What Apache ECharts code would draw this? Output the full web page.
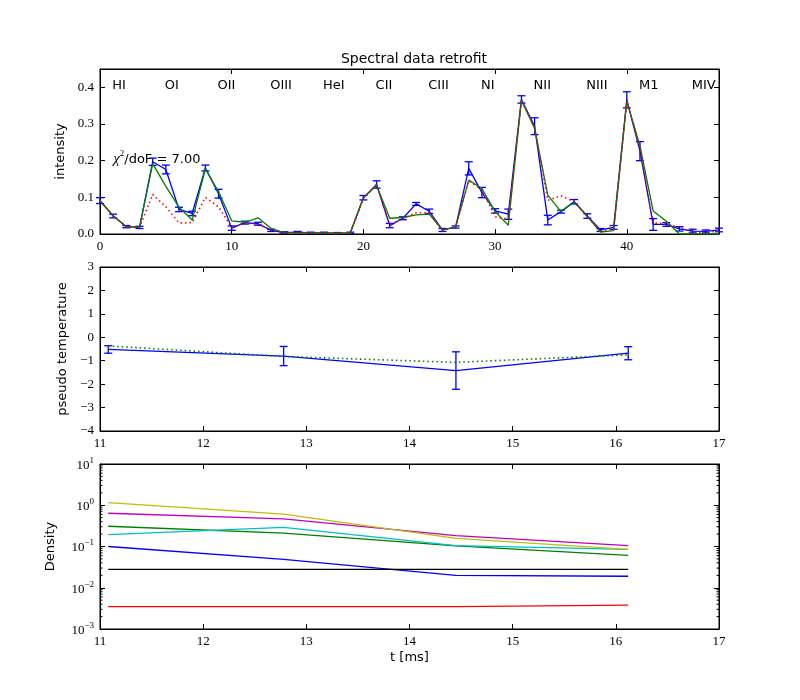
<!DOCTYPE html>
<html>
<head>
<meta charset="utf-8">
<script src="https://cdn.jsdelivr.net/npm/echarts@6/dist/echarts.min.js"></script>
<style>html,body{margin:0;padding:0;background:#fff;}#c{width:800px;height:700px;}</style>
</head>
<body>
<div id="c"></div>
<script>
// ---------- data ----------
const specX = [0,1,2,3,4,5,6,7,8,9,10,11,12,13,14,15,16,17,18,19,20,21,22,23,24,25,26,27,28,29,30,31,32,33,34,35,36,37,38,39,40,41,42,43,44,45,46,47];
const specMeasured = [0.091,0.049,0.020,0.018,0.197,0.176,0.067,0.056,0.180,0.110,0.016,0.031,0.028,0.010,0.004,0.005,0.003,0.003,0.002,0.003,0.099,0.135,0.023,0.043,0.082,0.062,0.011,0.019,0.179,0.113,0.063,0.054,0.367,0.294,0.038,0.061,0.088,0.049,0.011,0.018,0.366,0.226,0.026,0.026,0.014,0.008,0.007,0.011];
const specError = [0.008,0.005,0.003,0.003,0.010,0.012,0.006,0.006,0.008,0.012,0.006,0.004,0.004,0.003,0.002,0.002,0.002,0.002,0.002,0.002,0.006,0.010,0.006,0.004,0.004,0.006,0.004,0.003,0.018,0.014,0.006,0.014,0.010,0.023,0.013,0.004,0.006,0.006,0.004,0.005,0.022,0.026,0.016,0.005,0.006,0.005,0.004,0.005];
const specFit = [0.090,0.050,0.020,0.018,0.192,0.130,0.073,0.038,0.178,0.115,0.036,0.032,0.044,0.015,0.004,0.003,0.003,0.002,0.002,0.002,0.099,0.132,0.043,0.045,0.052,0.054,0.011,0.019,0.147,0.124,0.061,0.024,0.365,0.288,0.106,0.061,0.088,0.048,0.005,0.009,0.362,0.240,0.063,0.035,0.000,0.000,0.000,0.000];
const specInit = [0.090,0.050,0.020,0.018,0.108,0.074,0.030,0.031,0.100,0.074,0.018,0.030,0.027,0.010,0.003,0.004,0.003,0.003,0.002,0.003,0.097,0.135,0.025,0.042,0.058,0.058,0.009,0.019,0.145,0.120,0.047,0.040,0.366,0.290,0.092,0.104,0.088,0.048,0.008,0.014,0.364,0.235,0.030,0.028,0.018,0.005,0.004,0.008];
const lineNames = ["HI","OI","OII","OIII","HeI","CII","CIII","NI","NII","NIII","M1","MIV"];
const lineNameX = [1,5,9,13,17,21,25,29,33,37,41,45];
const chiText = "7.00";

const timeMs = [11.08, 12.78, 14.45, 16.12];
const tempMeasured = [-0.52, -0.80, -1.42, -0.68];
const tempError = [0.16, 0.41, 0.80, 0.28];
const tempFit = [-0.37, -0.82, -1.07, -0.75];

const densBlue    = [0.100, 0.049, 0.020, 0.019];
const densGreen   = [0.310, 0.210, 0.103, 0.061];
const densRed     = [0.0035, 0.0035, 0.0035, 0.0038];
const densCyan    = [0.195, 0.290, 0.105, 0.085];
const densMagenta = [0.640, 0.470, 0.183, 0.105];
const densYellow  = [1.160, 0.610, 0.158, 0.085];
const densBlack   = [0.028, 0.028, 0.028, 0.028];
const minorLogTicks = [];
[0.001,0.01,0.1,1].forEach(d=>{for(let k=2;k<=9;k++) minorLogTicks.push(+(d*k).toPrecision(3));});

// ---------- styling ----------
const SERIF = '"Liberation Serif", "DejaVu Serif", serif';
const SANS = '"DejaVu Sans", sans-serif';
const LW = 1.3;
const minus = v => String(v).replace('-', '\u2212');

function xAxes(gi, min, max, interval, fmt, name) {
  return [
    {gridIndex: gi, type:'value', min, max, interval, position:'bottom',
     axisLine:{show:true, onZero:false, lineStyle:{color:'#000', width:1}},
     axisTick:{show:true, inside:true, length:5, lineStyle:{color:'#000'}},
     axisLabel:{show:true, color:'#000', fontFamily:SERIF, fontSize:13, margin:6, formatter: fmt, showMaxLabel: true},
     splitLine:{show:false},
     name: name || '', nameLocation:'middle', nameGap: 22,
     nameTextStyle:{fontFamily:SANS, fontSize:13, color:'#000'}},
    {gridIndex: gi, type:'value', min, max, interval, position:'top',
     axisLine:{show:true, onZero:false, lineStyle:{color:'#000', width:1}},
     axisTick:{show:true, inside:true, length:5, lineStyle:{color:'#000'}},
     axisLabel:{show:false}, splitLine:{show:false}}
  ];
}
function yAxes(gi, type, min, max, interval, fmt, name, nameGap) {
  const base = {gridIndex: gi, type, min, max, splitLine:{show:false}};
  if (interval != null) base.interval = interval;
  return [
    Object.assign({}, base, {position:'left',
     axisLine:{show:true, onZero:false, lineStyle:{color:'#000', width:1}},
     axisTick:{show:true, inside:true, length:5, lineStyle:{color:'#000'}},
     axisLabel:{show:true, color:'#000', fontFamily:SERIF, fontSize:13, margin:6, formatter: fmt,
       rich:{b:{fontFamily:SERIF, fontSize:13, color:'#000', verticalAlign:'bottom'},
             s:{fontFamily:SERIF, fontSize:9, color:'#000', verticalAlign:'bottom', padding:[0,0,7,0]}}},
     name, nameLocation:'middle', nameGap, nameRotate:90,
     nameTextStyle:{fontFamily:SANS, fontSize:13, color:'#000'}}),
    Object.assign({}, base, {position:'right',
     axisLine:{show:true, onZero:false, lineStyle:{color:'#000', width:1}},
     axisTick:{show:true, inside:true, length:5, lineStyle:{color:'#000'}},
     axisLabel:{show:false}})
  ];
}

function errorBars(xi, yi, xs, ys, es, color, cap) {
  return {
    type:'custom', xAxisIndex:xi, yAxisIndex:yi, z:3, silent:true,
    data: xs.map((x,i)=>[x, ys[i]-es[i], ys[i]+es[i]]),
    renderItem: (params, api) => {
      const lo = api.coord([api.value(0), api.value(1)]);
      const hi = api.coord([api.value(0), api.value(2)]);
      const st = {stroke: color, lineWidth: LW};
      return {type:'group', children:[
        {type:'line', shape:{x1:lo[0], y1:lo[1], x2:hi[0], y2:hi[1]}, style:st},
        {type:'line', shape:{x1:lo[0]-cap, y1:lo[1], x2:lo[0]+cap, y2:lo[1]}, style:st},
        {type:'line', shape:{x1:hi[0]-cap, y1:hi[1], x2:hi[0]+cap, y2:hi[1]}, style:st}
      ]};
    }
  };
}
function line(xi, yi, xs, ys, color, dotted, z) {
  return {type:'line', xAxisIndex:xi, yAxisIndex:yi, data: xs.map((x,i)=>[x, ys[i]]),
    symbol:'none', silent:true, z: z || 2, clip:true, animation:false,
    lineStyle:{color, width: dotted ? 1.6 : LW, type: dotted ? [1.5, 3] : 'solid'}};
}

const fmtTop = v => (v % 10 === 0 ? String(v) : '');
const fmtInt = v => (Number.isInteger(v) ? minus(v) : '');
const fmtIntensity = v => (Math.abs(v*10 - Math.round(v*10)) < 1e-9 ? v.toFixed(1) : '');
const fmtLog = v => { const e = Math.round(Math.log10(v)); return '{b|10}{s|' + minus(e) + '}'; };

const series = [
  // top panel
  line(0, 0, specX, specMeasured, '#0000ff', false, 2),
  errorBars(0, 0, specX, specMeasured, specError, '#0000ff', 4),
  line(0, 0, specX, specFit, '#008000', false, 4),
  line(0, 0, specX, specInit, '#ff0000', true, 5),
  {type:'scatter', xAxisIndex:0, yAxisIndex:0, symbolSize:0, silent:true, z:6, clip:false,
   itemStyle:{opacity:1},
   data: lineNames.map((n,i)=>({value:[lineNameX[i], 0.405], name:n})),
   label:{show:true, position:'inside', align:'left', verticalAlign:'middle', offset:[-1,0],
          formatter: p => p.name, fontFamily:SANS, fontSize:13, color:'#000', textBorderWidth:0, opacity:1}},
  {type:'scatter', xAxisIndex:0, yAxisIndex:0, symbolSize:0, silent:true, z:6, clip:false,
   itemStyle:{opacity:1},
   data: [{value:[1, 0.207], name:chiText}],
   label:{show:true, position:'inside', align:'left', verticalAlign:'middle', offset:[0,0], textBorderWidth:0, opacity:1,
          formatter: p => '{c|\u03c7}{s|2}{t|/doF = ' + p.name + '}',
          rich:{c:{fontFamily:SERIF, fontStyle:'italic', fontSize:15, color:'#000', verticalAlign:'bottom'},
                s:{fontFamily:SERIF, fontSize:9, color:'#000', verticalAlign:'bottom', padding:[0,0,8,0]},
                t:{fontFamily:SANS, fontSize:13, color:'#000', verticalAlign:'bottom'}}}},
  // middle panel
  line(2, 2, timeMs, tempMeasured, '#0000ff', false, 2),
  errorBars(2, 2, timeMs, tempMeasured, tempError, '#0000ff', 4),
  line(2, 2, timeMs, tempFit, '#008000', true, 4),
  // bottom panel
  line(4, 4, timeMs, densBlue, '#0000ff'),
  line(4, 4, timeMs, densGreen, '#008000'),
  line(4, 4, timeMs, densRed, '#ff0000'),
  line(4, 4, timeMs, densCyan, '#00bfbf'),
  line(4, 4, timeMs, densMagenta, '#bf00bf'),
  line(4, 4, timeMs, densYellow, '#bfbf00'),
  line(4, 4, timeMs, densBlack, '#000000'),
  {type:'custom', xAxisIndex:4, yAxisIndex:4, silent:true, z:7,
   data: minorLogTicks.map(v=>[11, v]),
   renderItem: (params, api) => {
     const l = api.coord([11, api.value(1)]);
     const r = api.coord([17, api.value(1)]);
     const st = {stroke:'#000', lineWidth:1};
     return {type:'group', children:[
       {type:'line', shape:{x1:l[0], y1:l[1], x2:l[0]+2.5, y2:l[1]}, style:st},
       {type:'line', shape:{x1:r[0], y1:r[1], x2:r[0]-2.5, y2:r[1]}, style:st}
     ]};
   }}
];

const option = {
  animation:false,
  backgroundColor:'#fff',
  title:{text:'Spectral data retrofit', left:409, top:47, textAlign:'center',
         textStyle:{fontFamily:SANS, fontSize:14, fontWeight:'normal', color:'#000'}},
  grid:[
    {left:100, top:69, width:619, height:165, show:true, borderColor:'#000', borderWidth:1, backgroundColor:'transparent'},
    {left:100, top:267, width:619, height:164, show:true, borderColor:'#000', borderWidth:1, backgroundColor:'transparent'},
    {left:100, top:464, width:619, height:165, show:true, borderColor:'#000', borderWidth:1, backgroundColor:'transparent'}
  ],
  xAxis: [].concat(
    xAxes(0, 0, 47, 10, fmtTop),
    xAxes(1, 11, 17, 1, fmtInt),
    xAxes(2, 11, 17, 1, fmtInt, 't [ms]')
  ),
  yAxis: [].concat(
    yAxes(0, 'value', 0, 0.45, 0.1, fmtIntensity, 'intensity', 31),
    yAxes(1, 'value', -4, 3, 1, fmtInt, 'pseudo temperature', 31),
    yAxes(2, 'log', 0.001, 10, null, fmtLog, 'Density', 43)
  ),
  series
};
const chart = echarts.init(document.getElementById('c'), null, {renderer:'canvas'});
chart.setOption(option);
</script>
</body>
</html>
